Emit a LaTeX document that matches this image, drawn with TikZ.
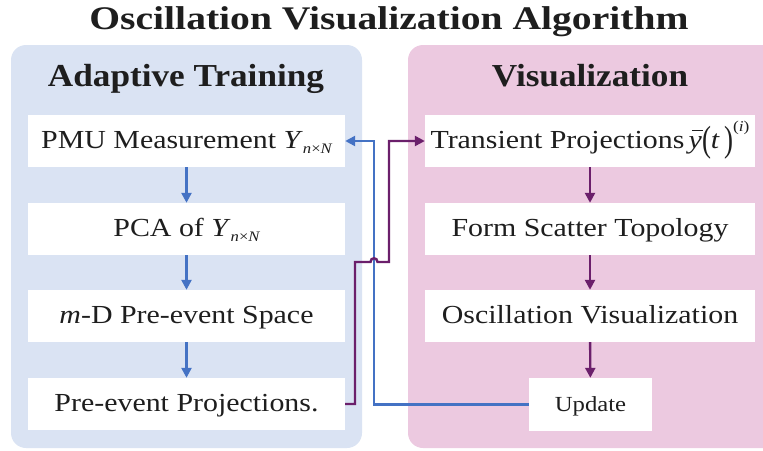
\documentclass[tikz,border=0pt]{standalone}
\usepackage{fontspec}
\usepackage{graphicx}
\setmainfont{Liberation Serif}[FakeStretch=1.15]
\newfontfamily\headfont{Liberation Serif}[FakeStretch=1.1]
\newfontfamily\titlefont{Liberation Serif}[FakeStretch=1.2]
\usetikzlibrary{arrows.meta}
\definecolor{panelblue}{HTML}{DAE3F3}
\definecolor{panelpink}{HTML}{ECC9E0}
\definecolor{flowblue}{HTML}{4472C4}
\definecolor{flowpurple}{HTML}{6B1F6B}
\definecolor{inktext}{HTML}{1E1E1E}
\newcommand{\Ynn}{\textit{Y}\raisebox{-0.45ex}{\fontsize{14.5}{15}\selectfont\itshape n\upshape×\itshape N}}
\newcommand{\ybar}{\makebox[0pt][l]{\hspace{0.12em}\rule[0.66em]{0.42em}{0.9pt}}\textit{y}}
\newcommand{\tallparen}[1]{\raisebox{-0.13em}{\scalebox{0.9}[1.4]{#1}}}
\begin{document}
\begin{tikzpicture}[x=1pt,y=-1pt,
  panel/.style={rounded corners=15pt,draw=none},
  stepbox/.style={fill=white,draw=none,text=inktext,minimum height=52pt,
    inner sep=0pt,text height=20pt,text depth=6pt,font=\fontsize{26}{30}\selectfont},
  heading/.style={text=inktext,anchor=base,font=\headfont\fontsize{32}{36}\selectfont\bfseries},
  blueflow/.style={draw=flowblue,line width=2.4pt,-{Triangle[length=10pt,width=10pt]}},
  purpleflow/.style={draw=flowpurple,line width=2.4pt,-{Triangle[length=10pt,width=10pt]}}
]
\useasboundingbox (0,0) rectangle (763,450);

% title
\node[heading,font=\titlefont\fontsize{33}{38}\selectfont\bfseries] (title) at (389,29) {Oscillation Visualization Algorithm};

% background panels
\fill[panelblue,panel] (11,45) rectangle (362,448);
\fill[panelpink,panel] (408,45) rectangle (778,448);

\node[heading] (hleft) at (186,86) {Adaptive Training};
\node[heading] (hright) at (590,86) {Visualization};

% adaptive training column
\node[stepbox,minimum width=317pt] (pmu) at (186.5,141) {PMU Measurement \Ynn};
\node[stepbox,minimum width=317pt] (pca) at (186.5,229) {PCA of \Ynn};
\node[stepbox,minimum width=317pt] (space) at (186.5,316) {\textit{m}-D Pre-event Space};
\node[stepbox,minimum width=317pt] (pre) at (186.5,404) {Pre-event Projections.};

% visualization column
\node[stepbox,minimum width=330pt] (tp) at (590,141)
  {Transient Projections\,\ybar\tallparen{(}\textit{t}\,\tallparen{)}\raisebox{0.62em}{\fontsize{15}{15}\selectfont(\itshape i\/\upshape)}};
\node[stepbox,minimum width=330pt] (fst) at (590,229) {Form Scatter Topology};
\node[stepbox,minimum width=330pt] (ov) at (590,316) {Oscillation Visualization};
\node[stepbox,minimum width=123pt,minimum height=53pt,font=\fontsize{21.5}{24}\selectfont] (upd) at (590.5,404.5) {Update};

% vertical flows
\draw[blueflow] (pmu) -- (pca);
\draw[blueflow] (pca) -- (space);
\draw[blueflow] (space) -- (pre);
\draw[purpleflow] (tp) -- (fst);
\draw[purpleflow] (fst) -- (ov);
\draw[purpleflow] (ov) -- (upd);

% feedback from update to measurement
\coordinate (bx) at (374,0);
\draw[blueflow] (upd.west) -- (upd.west -| bx) -- (pmu.east -| bx) -- (pmu.east);

% pre-event projections to transient projections, hopping over the feedback line
\coordinate (pa) at (355,262);
\coordinate (pb) at (389,262);
\draw[purpleflow] (pre.east) -| (pa) -- (370.5,262) .. controls (370.5,257) and (377.5,257) .. (377.5,262) -- (pb) |- (tp.west);
\end{tikzpicture}
\end{document}
